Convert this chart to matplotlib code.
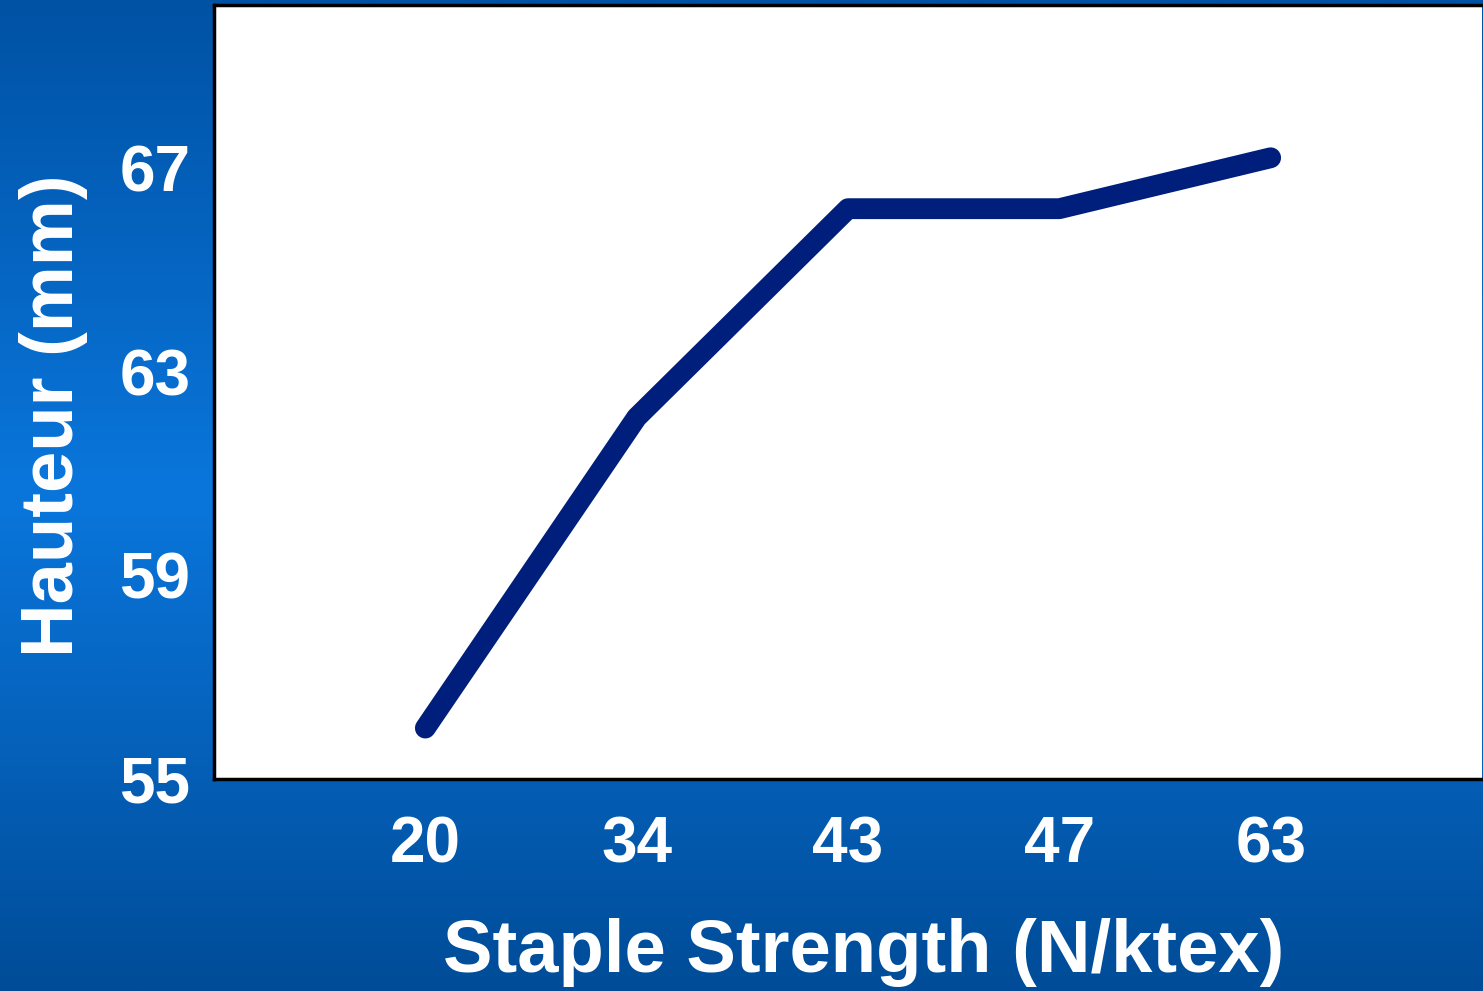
import numpy as np
import matplotlib
matplotlib.use("Agg")
import matplotlib.pyplot as plt
from matplotlib.colors import LinearSegmentedColormap

# Data
strength_labels = ["20", "34", "43", "47", "63"]
hauteur_mm = [56.0, 62.1, 66.2, 66.2, 67.2]
y_ticks = [55, 59, 63, 67]

FONT = "Liberation Sans"

fig = plt.figure(figsize=(14.83, 9.91), dpi=100)

# Vertical blue gradient background
bg = fig.add_axes([0, 0, 1, 1], zorder=-10)
bg_cmap = LinearSegmentedColormap.from_list(
    "bluebg",
    [(0.0, "#004c98"), (0.5, "#0a76dc"), (1.0, "#0052a4")],
)
grad = np.linspace(0, 1, 512).reshape(-1, 1)
bg.imshow(grad, aspect="auto", cmap=bg_cmap, extent=[0, 1, 0, 1], origin="lower")
bg.set_axis_off()

ax = fig.add_axes([214 / 1483, 1 - 779 / 991, 1268 / 1483, 774 / 991])
ax.set_facecolor("white")

x = np.arange(len(strength_labels))
ax.plot(x, hauteur_mm, color="#001f7c", linewidth=15,
        solid_capstyle="round", solid_joinstyle="round")

ax.set_xlim(-1, 5)
ax.set_ylim(55, 70.2)
ax.set_xticks(x)
ax.set_xticklabels(strength_labels)
ax.set_yticks(y_ticks)

for lbl in ax.get_xticklabels() + ax.get_yticklabels():
    lbl.set_fontfamily(FONT)
    lbl.set_fontweight("bold")
    lbl.set_fontsize(46)
    lbl.set_color("white")

ax.tick_params(axis="both", length=0)
ax.tick_params(axis="y", pad=17)
ax.tick_params(axis="x", pad=26)

for side in ["left", "top", "bottom"]:
    ax.spines[side].set_color("black")
    ax.spines[side].set_linewidth(2.5)
ax.spines["right"].set_visible(False)

ax.set_xlabel("Staple Strength (N/ktex)", fontfamily=FONT, fontweight="bold",
              fontsize=53.5, color="white")
ax.set_ylabel("Hauteur (mm)", fontfamily=FONT, fontweight="bold",
              fontsize=53.5, color="white")
ax.xaxis.set_label_coords(0.5126, -0.180)
ax.yaxis.set_label_coords(-0.0994, 0.470)

fig.savefig("out.png", dpi=100)
